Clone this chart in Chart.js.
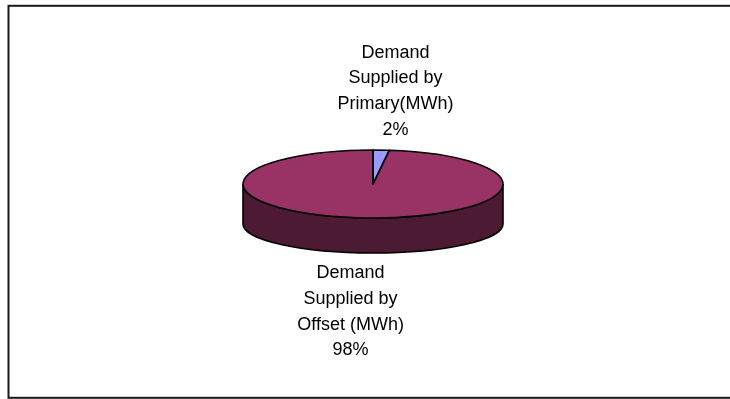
<!DOCTYPE html>
<html>
<head>
<meta charset="utf-8">
<script src="https://cdn.jsdelivr.net/npm/chart.js@4.4.0/dist/chart.umd.min.js"></script>
<style>
html, body { margin: 0; padding: 0; background: #fff; }
#wrap { width: 730px; height: 399px; }
</style>
</head>
<body>
<div id="wrap"><canvas id="pie"></canvas></div>
<script>
const categories = [
    ['Demand', 'Supplied by', 'Primary(MWh)'],
    ['Demand', 'Supplied by', 'Offset (MWh)']
];
const shares = [2, 98];
const topColors = ['#9999FF', '#993366'];
const sideColors = ['#4D4D80', '#4D1A33'];

// flattened look of the disc
const TILT = 34 / 130;
const BOTTOM_TILT = 29 / 130;
const DEPTH = 40;
const LABEL_GAP = 20;
const LINE_H = 25.8;

function discGeom(chart) {
    const arc = chart.getDatasetMeta(0).data[0];
    const r = arc.outerRadius;
    return { cx: arc.x, cy: arc.y, rx: r, ry: r * TILT, bry: r * BOTTOM_TILT };
}

const pie3d = {
    id: 'pie3d',
    beforeDraw(chart) {
        const ctx = chart.ctx;
        ctx.save();
        ctx.strokeStyle = '#1a1a1a';
        ctx.lineWidth = 2;
        ctx.strokeRect(8.5, 5.8, 740, 392);
        ctx.restore();
    },
    beforeDatasetsDraw(chart) {
        const ctx = chart.ctx;
        const arcs = chart.getDatasetMeta(0).data;
        const { cx, cy, rx, ry, bry } = discGeom(chart);

        // side wall, only the front half is visible
        ctx.save();
        ctx.lineWidth = 1.6;
        ctx.strokeStyle = '#000';
        arcs.forEach((arc, i) => {
            const s = Math.max(arc.startAngle, 0);
            const e = Math.min(arc.endAngle, Math.PI);
            if (e <= s) return;
            ctx.beginPath();
            ctx.ellipse(cx, cy, rx, ry, 0, s, e);
            ctx.lineTo(cx + rx * Math.cos(e), cy + DEPTH + bry * Math.sin(e));
            ctx.ellipse(cx, cy + DEPTH, rx, bry, 0, e, s, true);
            ctx.closePath();
            ctx.fillStyle = sideColors[i];
            ctx.fill();
            ctx.stroke();
        });
        ctx.restore();

        // squash the top face
        ctx.save();
        ctx.translate(cx, cy);
        ctx.scale(1, TILT);
        ctx.translate(-cx, -cy);
    },
    afterDatasetsDraw(chart) {
        const ctx = chart.ctx;
        ctx.restore();
        const arcs = chart.getDatasetMeta(0).data;
        const { cx, cy, rx, ry, bry } = discGeom(chart);

        ctx.save();
        ctx.lineWidth = 1.6;
        ctx.strokeStyle = '#000';
        ctx.lineJoin = 'round';
        arcs.forEach(arc => {
            ctx.beginPath();
            ctx.moveTo(cx, cy);
            ctx.ellipse(cx, cy, rx, ry, 0, arc.startAngle, arc.endAngle);
            ctx.closePath();
            ctx.stroke();
        });

        // data labels
        const total = shares.reduce((a, b) => a + b, 0);
        ctx.fillStyle = '#000';
        ctx.font = '18px "Liberation Sans", Arial, sans-serif';
        ctx.textAlign = 'center';
        ctx.textBaseline = 'middle';
        arcs.forEach((arc, i) => {
            const mid = (arc.startAngle + arc.endAngle) / 2;
            const lines = categories[i].concat(Math.round(shares[i] / total * 100) + '%');
            const x = cx + 2.75 * rx * Math.cos(mid);
            let y0;
            if (Math.sin(mid) < 0) {
                const edge = cy + ry * Math.sin(mid);
                y0 = edge - LABEL_GAP - (lines.length - 1) * LINE_H;
            } else {
                const edge = cy + DEPTH + bry * Math.sin(mid);
                y0 = edge + LABEL_GAP;
            }
            lines.forEach((t, k) => ctx.fillText(t, x, y0 + k * LINE_H));
        });
        ctx.restore();
    }
};

new Chart(document.getElementById('pie'), {
    type: 'pie',
    data: {
        labels: categories.map(c => c.join(' ')),
        datasets: [{
            data: shares,
            backgroundColor: topColors,
            borderWidth: 0,
            radius: 130
        }]
    },
    options: {
        responsive: true,
        maintainAspectRatio: false,
        animation: false,
        events: [],
        layout: { padding: { left: 243, right: 227, top: 54, bottom: 85 } },
        plugins: {
            legend: { display: false },
            tooltip: { enabled: false }
        }
    },
    plugins: [pie3d]
});
</script>
</body>
</html>
